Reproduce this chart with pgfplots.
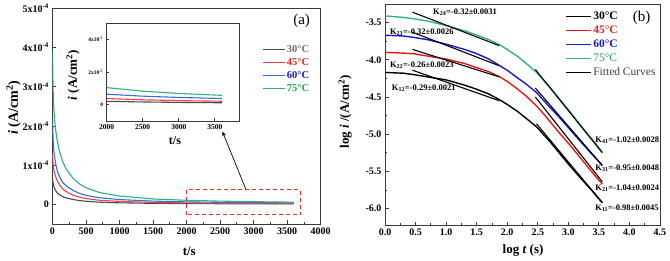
\documentclass[border=0pt]{standalone}
\usepackage{fontspec}
\setmainfont{Liberation Serif}
\usepackage{pgfplots}
\pgfplotsset{compat=1.18}
\usepackage{pgfplotstable}
\usetikzlibrary{arrows.meta}

\definecolor{ca30}{HTML}{4A4A4A}
\definecolor{ca45}{HTML}{F04040}
\definecolor{ca60}{HTML}{3070E0}
\definecolor{ca75}{HTML}{30B07A}
\definecolor{cb45}{HTML}{E81818}
\definecolor{cb60}{HTML}{1818D8}
\definecolor{cb75}{HTML}{35B27D}
\definecolor{ta30}{HTML}{707070}
\definecolor{t45}{HTML}{E02020}
\definecolor{t60}{HTML}{1A1ACC}
\definecolor{t75}{HTML}{20A050}
\definecolor{axc}{HTML}{3A3A3A}

% panel (a): t (s), i (A/cm^2)
\pgfplotstableread{
t    k30     k45     k60     k75
1    6.76e-5 1.26e-4 2.14e-4 3.89e-4
2    6.61e-5 1.23e-4 2.09e-4 3.72e-4
3    6.31e-5 1.20e-4 2.00e-4 3.55e-4
5    5.89e-5 1.12e-4 1.86e-4 3.31e-4
10   5.37e-5 1.02e-4 1.62e-4 2.88e-4
20   4.57e-5 8.91e-5 1.38e-4 2.45e-4
30   4.07e-5 7.94e-5 1.23e-4 2.19e-4
50   3.47e-5 6.92e-5 1.02e-4 1.86e-4
75   2.88e-5 5.89e-5 8.32e-5 1.58e-4
100  2.51e-5 5.13e-5 7.24e-5 1.38e-4
150  2.00e-5 3.98e-5 5.62e-5 1.10e-4
200  1.66e-5 3.31e-5 4.79e-5 9.12e-5
300  1.26e-5 2.40e-5 3.63e-5 6.76e-5
400  9.77e-6 1.86e-5 2.82e-5 5.25e-5
500  7.94e-6 1.48e-5 2.29e-5 4.27e-5
700  5.62e-6 1.05e-5 1.70e-5 3.02e-5
1000 3.98e-6 7.59e-6 1.23e-5 2.14e-5
1500 2.69e-6 5.01e-6 8.32e-6 1.38e-5
2000 2.09e-6 3.80e-6 6.46e-6 1.05e-5
2500 1.70e-6 3.02e-6 5.25e-6 8.32e-6
3000 1.41e-6 2.51e-6 4.47e-6 6.92e-6
3600 1.20e-6 2.14e-6 3.80e-6 5.75e-6
}\dataA

% panel (b): log t, log i
\pgfplotstableread{
lt    k30   k45   k60   k75
0     -4.17 -3.90 -3.67 -3.41
0.3   -4.18 -3.91 -3.68 -3.43
0.48  -4.20 -3.92 -3.70 -3.45
0.7   -4.23 -3.95 -3.73 -3.48
1.0   -4.27 -3.99 -3.79 -3.54
1.3   -4.34 -4.05 -3.86 -3.61
1.48  -4.39 -4.10 -3.91 -3.66
1.7   -4.46 -4.16 -3.99 -3.73
1.88  -4.54 -4.23 -4.08 -3.80
2.0   -4.60 -4.29 -4.14 -3.86
2.18  -4.70 -4.40 -4.25 -3.96
2.3   -4.78 -4.48 -4.32 -4.04
2.48  -4.90 -4.62 -4.44 -4.17
2.6   -5.01 -4.73 -4.55 -4.28
2.7   -5.10 -4.83 -4.64 -4.37
2.85  -5.25 -4.98 -4.77 -4.52
3.0   -5.40 -5.12 -4.91 -4.67
3.18  -5.57 -5.30 -5.08 -4.86
3.3   -5.68 -5.42 -5.19 -4.98
3.4   -5.77 -5.52 -5.28 -5.08
3.48  -5.85 -5.60 -5.35 -5.16
3.556 -5.92 -5.67 -5.42 -5.24
}\dataB

\pgfplotsset{
  myax/.style={
    scale only axis, anchor=south west,
    axis line style={axc, line width=0.8pt},
    tick style={axc, line width=0.8pt},
    tick align=inside, xtick pos=bottom, ytick pos=left,
    major tick length=3.5pt, minor tick length=2pt,
    every tick label/.append style={font=\bfseries\fontsize{10}{12}\selectfont},
    label style={font=\bfseries\fontsize{13}{15}\selectfont},
    legend cell align=left,
    legend image code/.code={\draw[##1, line width=1.2pt] (0pt,0pt) -- (22pt,0pt);},
  }
}

\begin{document}
\begin{tikzpicture}
\path[use as bounding box] (0pt,0pt) rectangle (670pt,260pt);

% ---------------- panel (a) ----------------
\begin{axis}[myax,
  at={(52.5pt,36pt)}, width=268.2pt, height=215.7pt,
  xmin=0, xmax=4000, ymin=-0.5e-4, ymax=5e-4,
  xtick={0,500,1000,1500,2000,2500,3000,3500,4000},
  xticklabels={0,500,1000,1500,2000,2500,3000,3500,4000},
  minor x tick num=1,
  ytick={0,1e-4,2e-4,3e-4,4e-4,5e-4},
  yticklabels={0,1x10\textsuperscript{-4},2x10\textsuperscript{-4},3x10\textsuperscript{-4},4x10\textsuperscript{-4},5x10\textsuperscript{-4}},
  scaled y ticks=false,
  xlabel={t/s},
  xlabel style={at={(rel axis cs:0.51,-0.128)}, anchor=center},
  ylabel={\textit{i} (A/cm\textsuperscript{2})},
  ylabel style={at={(rel axis cs:-0.145,0.54)}, anchor=center, font=\bfseries\fontsize{14}{16}\selectfont},
  legend style={draw=none, fill=none, at={(rel axis cs:0.77,0.85)}, anchor=north west,
    font=\bfseries\fontsize{10.5}{12}\selectfont,
    nodes={inner sep=1.5pt, text height=8pt, text depth=2pt}, row sep=0pt},
]
\addplot[ca30, line width=1.1pt] table[x=t, y=k30] {\dataA};
\addlegendentry{\textcolor{ta30}{30°C}}
\addplot[ca45, line width=1.1pt] table[x=t, y=k45] {\dataA};
\addlegendentry{\textcolor{t45}{45°C}}
\addplot[ca60, line width=1.1pt] table[x=t, y=k60] {\dataA};
\addlegendentry{\textcolor{t60}{60°C}}
\addplot[ca75, line width=1.1pt] table[x=t, y=k75] {\dataA};
\addlegendentry{\textcolor{t75}{75°C}}
\draw[red!85!white, line width=1pt, dash pattern=on 4pt off 3pt]
  (axis cs:2000,-0.27e-4) rectangle (axis cs:3700,0.37e-4);
\draw[-{Stealth[length=5pt]}, line width=0.7pt, black]
  (axis cs:2884,0.385e-4) -- (axis cs:2534,1.86e-4);
\node[font=\fontsize{15}{17}\selectfont] at (rel axis cs:0.929,0.94) {(a)};
\end{axis}

% ---------------- inset ----------------
\begin{axis}[myax,
  at={(106.7pt,139pt)}, width=132.6pt, height=97.7pt,
  axis background/.style={fill=white},
  xmin=2000, xmax=3840, ymin=-1e-5, ymax=5e-5,
  xtick={2000,2500,3000,3500},
  xticklabels={2000,2500,3000,3500},
  ytick={0,2e-5,4e-5},
  yticklabels={0,2x10\textsuperscript{-5},4x10\textsuperscript{-5}},
  scaled y ticks=false,
  major tick length=2.5pt,
  xticklabel style={font=\bfseries\fontsize{7.5}{9}\selectfont},
  yticklabel style={font=\bfseries\fontsize{5.5}{7}\selectfont},
  xlabel={t/s},
  xlabel style={at={(rel axis cs:0.515,-0.2)}, anchor=center, font=\bfseries\fontsize{12}{14}\selectfont},
  ylabel={\textit{i} (A/cm\textsuperscript{2})},
  ylabel style={at={(rel axis cs:-0.254,0.47)}, anchor=center, font=\bfseries\fontsize{13}{15}\selectfont},
]
\addplot[ca30, line width=1.1pt] table[x=t, y=k30] {\dataA};
\addplot[ca45, line width=1.1pt] table[x=t, y=k45] {\dataA};
\addplot[ca60, line width=1.1pt] table[x=t, y=k60] {\dataA};
\addplot[ca75, line width=1.1pt] table[x=t, y=k75] {\dataA};
\end{axis}

% ---------------- panel (b) ----------------
\begin{axis}[myax,
  at={(385pt,35pt)}, width=275pt, height=221pt,
  xmin=0, xmax=4.5, ymin=-6.22, ymax=-3.25,
  xtick={0,0.5,1,1.5,2,2.5,3,3.5,4,4.5},
  xticklabels={0.0,0.5,1.0,1.5,2.0,2.5,3.0,3.5,4.0,4.5},
  minor x tick num=1,
  ytick={-6,-5.5,-5,-4.5,-4,-3.5},
  yticklabels={-6.0,-5.5,-5.0,-4.5,-4.0,-3.5},
  minor y tick num=1,
  xlabel={log \textit{t} (s)},
  xlabel style={at={(rel axis cs:0.502,-0.113)}, anchor=center},
  ylabel={log \textit{i} /(A/cm\textsuperscript{2})},
  ylabel style={at={(rel axis cs:-0.145,0.513)}, anchor=center},
  legend style={draw=none, fill=none, at={(rel axis cs:0.645,0.985)}, anchor=north west,
    font=\fontsize{11.5}{13}\selectfont,
    nodes={inner sep=1.5pt, text height=8.5pt, text depth=2.5pt}, row sep=0pt},
  legend image code/.code={\draw[#1, line width=1.2pt] (0pt,0pt) -- (25pt,0pt);},
]
\addplot[black, line width=1.4pt] table[x=lt, y=k30] {\dataB};
\addlegendentry{\textbf{30°C}}
\addplot[cb45, line width=1.4pt] table[x=lt, y=k45] {\dataB};
\addlegendentry{\textcolor{t45}{\textbf{45°C}}}
\addplot[cb60, line width=1.4pt] table[x=lt, y=k60] {\dataB};
\addlegendentry{\textcolor{t60}{\textbf{60°C}}}
\addplot[cb75, line width=1.4pt] table[x=lt, y=k75] {\dataB};
\addlegendentry{\textcolor{t75}{75°C}}
% fitted lines
\addplot[black, line width=1.1pt] coordinates {(0.45,-3.36) (1.87,-3.81)};
\addlegendentry{\textcolor{black!75}{Fitted Curves}}
\addplot[black, line width=1.1pt, forget plot] coordinates {(0.45,-3.63) (1.87,-4.08)};
\addplot[black, line width=1.1pt, forget plot] coordinates {(0.45,-3.86) (1.87,-4.23)};
\addplot[black, line width=1.1pt, forget plot] coordinates {(0.45,-4.14) (1.87,-4.55)};
\addplot[black, line width=1.1pt, forget plot] coordinates {(2.46,-4.13) (3.556,-5.25)};
\addplot[black, line width=1.1pt, forget plot] coordinates {(2.46,-4.38) (3.556,-5.42)};
\addplot[black, line width=1.1pt, forget plot] coordinates {(2.46,-4.50) (3.556,-5.64)};
\addplot[black, line width=1.1pt, forget plot] coordinates {(2.48,-4.86) (3.556,-5.92)};
\begin{scope}[every node/.style={anchor=west, inner sep=0pt, font=\bfseries\fontsize{8.5}{10}\selectfont}]
\node at (axis cs:0.785,-3.365) {K\textsubscript{24}=-0.32±0.0031};
\node at (axis cs:0.08,-3.63) {K\textsubscript{23}=-0.32±0.0026};
\node at (axis cs:0.08,-4.07) {K\textsubscript{22}=-0.26±0.0023};
\node at (axis cs:0.11,-4.385) {K\textsubscript{12}=-0.29±0.0021};
\node at (axis cs:3.44,-5.08) {K\textsubscript{41}=-1.02±0.0028};
\node at (axis cs:3.44,-5.455) {K\textsubscript{31}=-0.95±0.0048};
\node at (axis cs:3.44,-5.72) {K\textsubscript{21}=-1.04±0.0024};
\node at (axis cs:3.44,-5.99) {K\textsubscript{11}=-0.98±0.0045};
\end{scope}
\node[font=\fontsize{15}{17}\selectfont] at (rel axis cs:0.933,0.935) {(b)};
\end{axis}
\end{tikzpicture}
\end{document}
